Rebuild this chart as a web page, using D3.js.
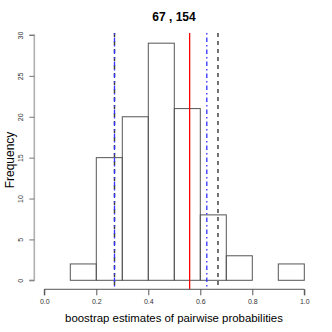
<!DOCTYPE html>
<html><head><meta charset="utf-8">
<script src="https://cdn.jsdelivr.net/npm/d3@7"></script>
<style>body{margin:0;background:#fff}svg{display:block}text{font-family:"Liberation Sans",Arial,sans-serif}</style>
</head><body>
<svg id="c" width="332" height="332"></svg>
<script>
const binStarts = [0.1,0.2,0.3,0.4,0.5,0.6,0.7,0.8,0.9];
const binWidth = 0.1;
const counts = [2,15,20,29,21,8,3,0,2];
const xTicks = [0,0.2,0.4,0.6,0.8,1.0];
const yTicks = [0,5,10,15,20,25,30];
const observed = 0.559;
const blueCI = [0.27,0.625];
const blackCI = [0.27,0.668];
const title = "67 , 154";
const xLabel = "boostrap estimates of pairwise probabilities";
const yLabel = "Frequency";

const svg = d3.select("#c");
const x = d3.scaleLinear().domain([0,1]).range([44.3,304.3]);
const y = d3.scaleLinear().domain([0,30]).range([280.3,35]);
const yTop = y(30.25), yBot = y(-1.1);

// bars
svg.append("g").selectAll("rect").data(binStarts).join("rect")
  .attr("x",(d)=>x(d)).attr("width",(d)=>x(d+binWidth)-x(d))
  .attr("y",(d,i)=>y(counts[i])).attr("height",(d,i)=>y(0)-y(counts[i]))
  .attr("fill","none").attr("stroke","#555").attr("stroke-width",1);

// vertical lines
function vline(v,color,dash,w){
  svg.append("line").attr("x1",x(v)).attr("x2",x(v)).attr("y1",yTop).attr("y2",yBot)
   .attr("stroke",color).attr("stroke-width",w).attr("stroke-dasharray",dash);
}
vline(observed,"#ff0000",null,1.3);
blackCI.forEach(v=>vline(v,"#444","4,4",1.5));
blueCI.forEach(v=>vline(v,"#3030ff","1.5,3,4.5,3",1.3));

// x axis
const xa = svg.append("g").attr("transform",`translate(0,${yBot})`)
  .call(d3.axisBottom(x).tickValues(xTicks).tickFormat(d3.format(".1f")).tickSize(6).tickPadding(4));
xa.selectAll("path,line").attr("stroke","#555");
xa.select(".domain").attr("d",`M${x(0)},6V0H${x(1)}V6`);
xa.selectAll("text").attr("font-size",7).attr("fill","#333").attr("font-family","Liberation Sans,Arial,sans-serif");

// y axis
const ya = svg.append("g").attr("transform",`translate(34.3,0)`)
  .call(d3.axisLeft(y).tickValues(yTicks).tickSize(5).tickPadding(0));
ya.selectAll("line").attr("stroke","#777");
ya.select(".domain").attr("d",`M-5,${y(0)}H0V${y(30)}H-5`).attr("stroke","#b0b0b0").attr("stroke-width",1.6);
ya.selectAll(".tick text").attr("font-size",7).attr("fill","#333").attr("font-family","Liberation Sans,Arial,sans-serif")
  .attr("transform","rotate(-90)").attr("x",0).attr("y",-11).attr("dy","0").attr("text-anchor","middle");

// titles
svg.append("text").attr("x",174).attr("y",21).attr("text-anchor","middle")
  .attr("font-size",12).attr("font-weight","bold").text(title);
svg.append("text").attr("x",174).attr("y",322).attr("text-anchor","middle")
  .attr("font-size",11.4).text(xLabel);
svg.append("text").attr("transform","translate(14,160) rotate(-90)").attr("text-anchor","middle")
  .attr("font-size",12).text(yLabel);
</script>
</body></html>
